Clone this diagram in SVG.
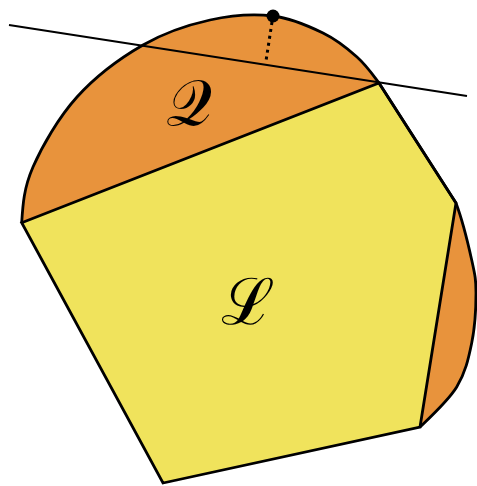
<svg xmlns="http://www.w3.org/2000/svg" width="477" height="486" viewBox="0 0 477 486">
<style>
.seg{fill:#E8933C;stroke:none}
.poly{fill:#F0E35C;stroke:#000;stroke-width:2.8;stroke-linejoin:miter}
.arc{fill:none;stroke:#000;stroke-width:2.8;stroke-linejoin:round}
.lbl{font-family:"DejaVu Serif","Noto Sans",serif;font-size:64px;fill:#000;text-anchor:middle}
</style>
<g id="region-Q">
<path class="seg" d="M21.7,222.7 C22.8,204.7 23.8,188 33,167 C42.2,146 58.7,117.3 77,97 C95.3,76.7 120.8,57.8 143,45 C165.2,32.2 188.3,24.8 210,20 C231.7,15.2 254.2,13.8 273,16 C291.8,18.2 309,26.2 323,33 C337,39.8 347.7,48.7 357,57 C366.3,65.3 371.8,73.3 379,83 L456,203 C461.3,217.2 468.4,245 471.7,260 C475,275 476,279.2 476,293 C476,306.8 474.9,327.3 471.7,343 C468.5,358.7 465.3,373 456.7,387 C448.1,401 428.6,418.7 420,427 L163,483 Z"/>
</g>
<g id="region-L">
<polygon class="poly" points="21.7,222.7 379,83 456,203 420,427 163,483"/>
</g>
<g id="boundary">
<path class="arc" d="M21.7,222.7 C22.8,204.7 23.8,188 33,167 C42.2,146 58.7,117.3 77,97 C95.3,76.7 120.8,57.8 143,45 C165.2,32.2 188.3,24.8 210,20 C231.7,15.2 254.2,13.8 273,16 C291.8,18.2 309,26.2 323,33 C337,39.8 347.7,48.7 357,57 C366.3,65.3 371.8,73.3 379,83 L456,203 C461.3,217.2 468.4,245 471.7,260 C475,275 476,279.2 476,293 C476,306.8 474.9,327.3 471.7,343 C468.5,358.7 465.3,373 456.7,387 C448.1,401 428.6,418.7 420,427"/>
</g>
<g id="connectors">
<line x1="9" y1="25" x2="467" y2="96" stroke="#000" stroke-width="2"/>
<line x1="272" y1="22" x2="266" y2="61" stroke="#000" stroke-width="3" stroke-dasharray="3 4"/>
</g>
<g id="point">
<circle cx="273" cy="16" r="6.5" fill="#000"/>
</g>
<g id="labels">
<text class="lbl" x="189" y="125">𝒬</text>
<text class="lbl" x="248" y="324">ℒ</text>
</g>
</svg>
